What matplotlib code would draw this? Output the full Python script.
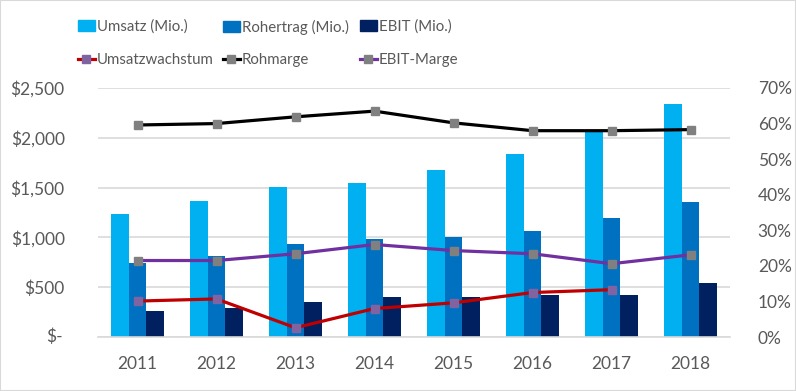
import matplotlib
matplotlib.use("Agg")
import matplotlib.pyplot as plt
import matplotlib.transforms as mtransforms
import numpy as np
from matplotlib.patches import Rectangle, Patch
from matplotlib.lines import Line2D

years = ["2011", "2012", "2013", "2014", "2015", "2016", "2017", "2018"]
umsatz = [1235, 1365, 1506, 1546, 1677, 1837, 2070, 2339]
rohertrag = [743, 813, 934, 984, 1004, 1064, 1195, 1355]
ebit = [261, 291, 351, 402, 405, 422, 422, 542]
umsatzwachstum = [10.1, 10.7, 2.6, 8.0, 9.6, 12.5, 13.3, np.nan]
rohmarge = [59.6, 60.0, 61.9, 63.5, 60.2, 58.0, 58.0, 58.3]
ebit_marge = [21.5, 21.5, 23.4, 26.0, 24.3, 23.4, 20.6, 23.1]

left_ticks = [0, 500, 1000, 1500, 2000, 2500]
left_labels = ["$-", "$500", "$1,000", "$1,500", "$2,000", "$2,500"]
right_ticks = [0, 10, 20, 30, 40, 50, 60, 70]
right_labels = ["0%", "10%", "20%", "30%", "40%", "50%", "60%", "70%"]

plt.rcParams['font.family'] = ['Lato', 'DejaVu Sans']
txt = '#595959'
grid = '#D9D9D9'
fs = 12.5

fig = plt.figure(figsize=(7.96, 3.91), dpi=100)
fig.patches.append(Rectangle((0, 0), 1, 1, transform=fig.transFigure, fill=False,
                             edgecolor=grid, linewidth=1.5, zorder=10))
ax = fig.add_axes([98/796, 1-337/391, 632/796, 249/391])
ax2 = ax.twinx()

x = np.arange(len(years))
w = 0.22
c1, c2, c3 = '#00B0F0', '#0070C0', '#002060'
ax.bar(x - w, umsatz, w, color=c1, zorder=2)
ax.bar(x, rohertrag, w, color=c2, zorder=2)
ax.bar(x + w, ebit, w, color=c3, zorder=2)

ax.set_xlim(-0.5, len(years) - 0.5)
ax.set_ylim(0, 2500)
ax.set_yticks(left_ticks)
ax.set_yticklabels([""] + left_labels[1:])
ax.set_xticks(x)
ax.set_xticklabels(years)
ax.yaxis.grid(True, color=grid, linewidth=1.2, zorder=0)
ax.set_axisbelow(True)
for s in ['top', 'left', 'right']:
    ax.spines[s].set_visible(False)
ax.spines['bottom'].set_color(grid)
ax.spines['bottom'].set_linewidth(1.2)
ax.tick_params(axis='both', length=0, labelsize=fs, colors=txt)
ax.tick_params(axis='y', pad=24)
ax.tick_params(axis='x', pad=14)
# accounting-format zero label, set further left than the others
zero_tr = mtransforms.blended_transform_factory(ax.transAxes, ax.transData) + \
    mtransforms.ScaledTranslation(-35/100, 0, fig.dpi_scale_trans)
ax.text(0, left_ticks[0], left_labels[0], transform=zero_tr, ha='right', va='center',
        fontsize=fs, color=txt)

lw = 2.3
ms = 5.5
ax2.plot(x, umsatzwachstum, color='#C00000', lw=lw, marker='s', ms=ms,
         mfc='#8064A2', mec='#8064A2', zorder=3)
ax2.plot(x, rohmarge, color='black', lw=lw, marker='s', ms=ms,
         mfc='#808080', mec='#808080', zorder=3)
ax2.plot(x, ebit_marge, color='#7030A0', lw=lw, marker='s', ms=ms,
         mfc='#808080', mec='#808080', zorder=3)
ax2.set_ylim(0, 70)
ax2.set_yticks(right_ticks)
ax2.set_yticklabels(right_labels)
for s in ax2.spines.values():
    s.set_visible(False)
ax2.tick_params(axis='y', length=0, labelsize=fs, colors=txt, pad=20)

handles = [
    Patch(color=c1), Patch(color=c2), Patch(color=c3),
    Line2D([], [], color='#C00000', lw=lw, marker='s', ms=ms, mfc='#8064A2', mec='#8064A2'),
    Line2D([], [], color='black', lw=lw, marker='s', ms=ms, mfc='#808080', mec='#808080'),
    Line2D([], [], color='#7030A0', lw=lw, marker='s', ms=ms, mfc='#808080', mec='#808080'),
]
labels = ["Umsatz (Mio.)", "Rohertrag (Mio.)", "EBIT (Mio.)",
          "Umsatzwachstum", "Rohmarge", "EBIT-Marge"]
col_x = [78, 223, 360]
row_y = [27, 60]
leg_fs = 10.8
for i, (h, l) in enumerate(zip(handles, labels)):
    r, c = divmod(i, 3)
    lg = fig.legend([h], [l], loc='center left',
                    bbox_to_anchor=(col_x[c]/796, 1 - row_y[r]/391),
                    frameon=False, fontsize=leg_fs, labelcolor=txt, handlelength=1.1,
                    handleheight=0.75, handletextpad=0.15, borderpad=0, borderaxespad=0)

fig.savefig("out.png", dpi=100)
